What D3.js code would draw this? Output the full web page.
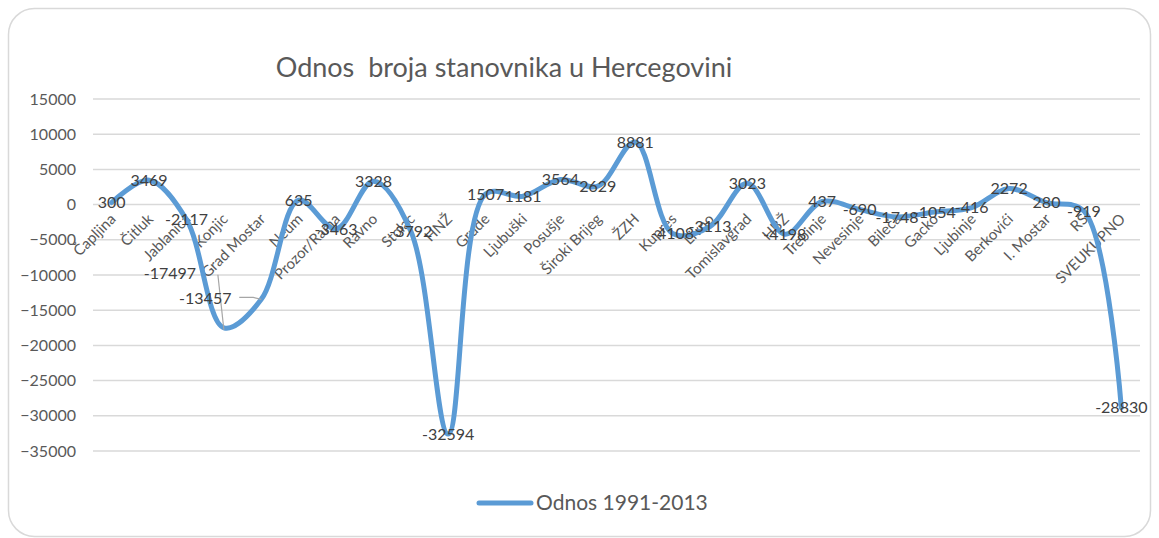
<!DOCTYPE html>
<html>
<head>
<meta charset="utf-8">
<script src="https://cdn.jsdelivr.net/npm/d3@7"></script>
<style>
  body { margin: 0; background: #fff; }
  svg text { font-family: Lato, "Open Sans", sans-serif; }
</style>
</head>
<body>
<div id="chart"></div>
<script>
var categories = ["Čapljina", "Čitluk", "Jablanica", "Konjic", "Grad Mostar", "Neum", "Prozor/Rama", "Ravno", "Stolac", "HNŽ",
  "Grude", "Ljubuški", "Posušje", "Široki Brijeg", "ŽZH", "Kupres", "Livno", "Tomislavgrad", "HBŽ", "Trebinje",
  "Nevesinje", "Bileća", "Gacko", "Ljubinje", "Berkovići", "I. Mostar", "RS", "SVEUKUPNO"];
var values = [300, 3469, -2117, -17497, -13457, 635, -3463, 3328, -3792, -32594,
  1507, 1181, 3564, 2629, 8881, -4108, -3113, 3023, -4198, 437,
  -690, -1748, -1054, -416, 2272, 280, -919, -28830];
var yTicks = [15000, 10000, 5000, 0, -5000, -10000, -15000, -20000, -25000, -30000, -35000];
var seriesName = "Odnos 1991-2013";

var drawChart = function()
{
  var w = 1159;
  var h = 538;
  var pLeft = 93, pRight = 1140, pTop = 99, pBottom = 451;

  var svg = d3.select("#chart")
    .append("svg")
    .attr("width", w)
    .attr("height", h);

  svg.append("rect")
    .attr("x", 8.5).attr("y", 8.5)
    .attr("width", 1142).attr("height", 528)
    .attr("rx", 26)
    .attr("fill", "#fff")
    .attr("stroke", "#d9d9d9")
    .attr("stroke-width", 1.5);

  var x = d3.scaleBand()
    .domain(categories)
    .range([pLeft, pRight]);

  var y = d3.scaleLinear()
    .domain([-35000, 15000])
    .range([pBottom, pTop]);

  // gridlines
  svg.append("g")
    .selectAll("line")
    .data(yTicks)
    .enter()
    .append("line")
    .attr("x1", pLeft).attr("x2", pRight)
    .attr("y1", function(d) { return y(d); })
    .attr("y2", function(d) { return y(d); })
    .attr("stroke", "#d9d9d9")
    .attr("stroke-width", 1.5);

  // y axis
  var yAxis = svg.append("g")
    .attr("transform", "translate(" + (pLeft - 17) + ",0)")
    .call(d3.axisLeft(y).tickValues(yTicks).tickSize(0).tickPadding(0).tickFormat(d3.format("d")));
  yAxis.select(".domain").remove();
  yAxis.selectAll("text")
    .attr("fill", "#595959")
    .style("font-family", "Lato, sans-serif")
    .style("font-size", "16px");

  // category labels
  svg.append("g")
    .selectAll("text")
    .data(categories)
    .enter()
    .append("text")
    .attr("transform", function(d) {
      return "translate(" + (x(d) + x.bandwidth() / 2 + 5) + "," + 220 + ") rotate(-45)";
    })
    .attr("text-anchor", "end")
    .attr("fill", "#595959")
    .style("font-size", "15px")
    .text(function(d) { return d; });

  var pts = categories.map(function(c, i) {
    return { c: c, v: values[i], px: x(c) + x.bandwidth() / 2, py: y(values[i]) };
  });

  var line = d3.line()
    .x(function(d) { return d.px; })
    .y(function(d) { return d.py; })
    .curve(d3.curveCatmullRom.alpha(0.5));

  svg.append("path")
    .datum(pts)
    .attr("d", line)
    .attr("fill", "none")
    .attr("stroke", "#5b9bd5")
    .attr("stroke-width", 5)
    .attr("stroke-linecap", "round")
    .attr("stroke-linejoin", "round");

  // moved labels (Konjic, Grad Mostar) with leader lines
  var moved = { "Konjic": [-54, -54], "Grad Mostar": [-56, -1] };
  svg.append("line")
    .attr("x1", pts[3].px - 6).attr("y1", pts[3].py - 53)
    .attr("x2", pts[3].px).attr("y2", pts[3].py + 2)
    .attr("stroke", "#a6a6a6").attr("stroke-width", 1.2);
  svg.append("polyline")
    .attr("points", (pts[4].px - 22) + "," + (pts[4].py - 2) + " " + (pts[4].px - 8) + "," + (pts[4].py - 2) + " " + pts[4].px + "," + pts[4].py)
    .attr("fill", "none")
    .attr("stroke", "#a6a6a6").attr("stroke-width", 1.2);

  svg.append("g")
    .selectAll("text")
    .data(pts)
    .enter()
    .append("text")
    .attr("x", function(d) { return d.px + (moved[d.c] ? moved[d.c][0] : 0); })
    .attr("y", function(d) { return d.py + (moved[d.c] ? moved[d.c][1] : 0); })
    .attr("dy", "0.35em")
    .attr("text-anchor", "middle")
    .attr("fill", "#404040")
    .style("font-size", "16px")
    .text(function(d) { return d.v; });

  // title
  svg.append("text")
    .attr("x", 504).attr("y", 77)
    .attr("text-anchor", "middle")
    .attr("fill", "#595959")
    .style("font-size", "27px")
    .style("white-space", "pre")
    .text("Odnos  broja stanovnika u Hercegovini");

  // legend
  svg.append("line")
    .attr("x1", 479).attr("x2", 531)
    .attr("y1", 503).attr("y2", 503)
    .attr("stroke", "#5b9bd5")
    .attr("stroke-width", 5)
    .attr("stroke-linecap", "round");
  svg.append("text")
    .attr("x", 536).attr("y", 503)
    .attr("dy", "0.35em")
    .attr("fill", "#595959")
    .style("font-size", "21px")
    .text(seriesName);
}

drawChart();
</script>
</body>
</html>
